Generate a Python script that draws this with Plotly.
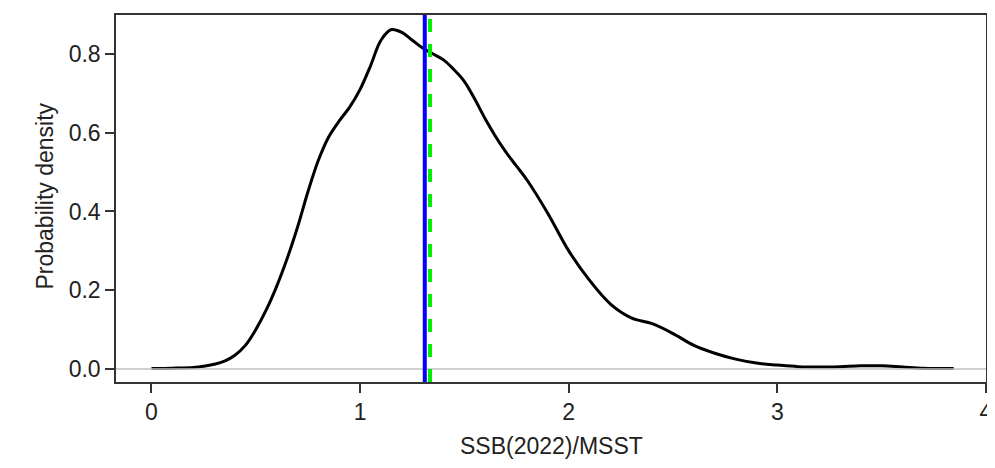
import plotly.graph_objects as go

x_vals = [0.0, 0.1, 0.2, 0.25, 0.3, 0.35, 0.4, 0.45, 0.5, 0.55, 0.6, 0.65, 0.7, 0.75, 0.8, 0.85, 0.9, 0.95,
          1.0, 1.05, 1.1, 1.15, 1.2, 1.25, 1.3, 1.35, 1.4, 1.45, 1.5, 1.55, 1.6, 1.65, 1.7, 1.75, 1.8,
          1.9, 2.0, 2.1, 2.2, 2.3, 2.4, 2.5, 2.6, 2.7, 2.8, 2.9, 3.0, 3.1, 3.2, 3.3, 3.4, 3.5, 3.6, 3.7, 3.845]
density = [0.001, 0.002, 0.004, 0.007, 0.012, 0.02, 0.035, 0.06, 0.10, 0.15, 0.21, 0.28, 0.36, 0.45, 0.53, 0.59,
           0.63, 0.665, 0.71, 0.77, 0.835, 0.862, 0.855, 0.835, 0.815, 0.80, 0.785, 0.76, 0.73, 0.685, 0.635,
           0.59, 0.55, 0.515, 0.48, 0.395, 0.30, 0.225, 0.165, 0.13, 0.115, 0.09, 0.06, 0.04, 0.025, 0.015,
           0.01, 0.006, 0.005, 0.006, 0.008, 0.008, 0.005, 0.002, 0.001]
blue_line_x = 1.31
green_line_x = 1.335
x_title = "SSB(2022)/MSST"
y_title = "Probability density"

FONT = "Liberation Sans, Arial"
TXT = "#222222"

fig = go.Figure()
fig.add_hline(y=0, line=dict(color="#c0c0c0", width=1.5))
fig.add_trace(go.Scatter(x=x_vals, y=density, mode="lines", line=dict(color="black", width=3, shape="spline"),
                         showlegend=False))
fig.add_vline(x=blue_line_x, line=dict(color="#0000ff", width=4))
fig.add_vline(x=green_line_x, line=dict(color="#00ee00", width=4, dash="13px,12px"))

axis_common = dict(showgrid=False, zeroline=False, showline=True, linecolor="#333333", linewidth=1.5,
                   mirror=True, ticks="outside", ticklen=9, tickwidth=1.5, tickcolor="#333333",
                   automargin=False,
                   tickfont=dict(family=FONT, size=23, color=TXT))
fig.update_xaxes(range=[-0.17, 4.0], tickvals=[0, 1, 2, 3, 4], **axis_common)
fig.update_yaxes(range=[-0.033, 0.899], tickvals=[0, 0.2, 0.4, 0.6, 0.8],
                 ticktext=["0.0", "0.2", "0.4", "0.6", "0.8"], **axis_common)

fig.add_annotation(text=x_title, xref="paper", x=0.5, yref="paper", y=0, yanchor="middle", yshift=-64,
                   showarrow=False, font=dict(family=FONT, size=23, color=TXT))
fig.add_annotation(text=y_title, xref="paper", x=0, xanchor="center", xshift=-71, yref="y", y=0.438,
                   textangle=-90, showarrow=False, font=dict(family=FONT, size=23, color=TXT))

# the page body adds an 8px margin, so the figure is shrunk by that amount
fig.update_layout(width=987, height=460, margin=dict(l=108, r=9, t=7, b=86),
                  plot_bgcolor="white", paper_bgcolor="white")
fig.write_html("out.html")
